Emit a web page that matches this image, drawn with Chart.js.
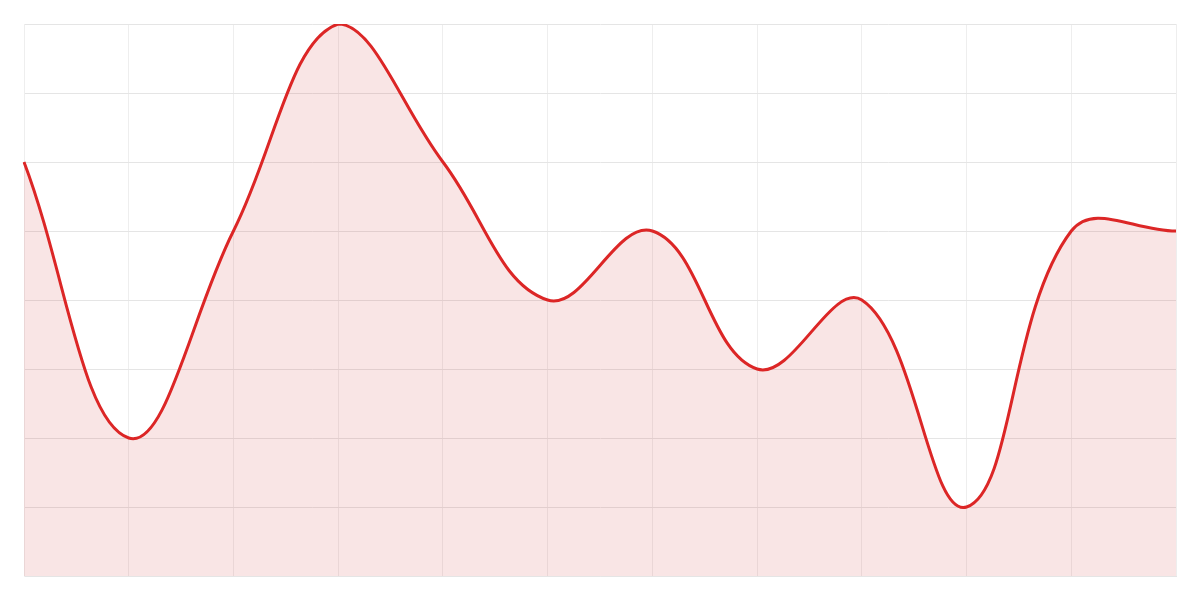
<!DOCTYPE html>
<html>
<head>
<meta charset="utf-8">
<script src="https://cdn.jsdelivr.net/npm/chart.js@4"></script>
<style>
html,body{margin:0;padding:0;background:#fff;}
#wrap{width:1200px;height:600px;}
</style>
</head>
<body>
<div id="wrap"><canvas id="c" width="1200" height="600"></canvas></div>
<script>
const labels = ['1','2','3','4','5','6','7','8','9','10','11','12'];
const values = [60, 20, 50, 80, 60, 40, 50, 30, 40, 10, 50, 50];
const yMin = 0, yMax = 80, yStep = 10;

new Chart(document.getElementById('c'), {
  type: 'line',
  data: {
    labels: labels,
    datasets: [{
      data: values,
      borderColor: '#dc2626',
      backgroundColor: 'rgba(205,40,40,0.12)',
      borderWidth: 3,
      fill: true,
      tension: 0.4,
      pointRadius: 0
    }]
  },
  options: {
    responsive: false,
    animation: false,
    layout: { padding: 24 },
    plugins: { legend: { display: false }, tooltip: { enabled: false } },
    scales: {
      x: {
        ticks: { display: false },
        grid: { color: '#eeeeee', drawTicks: false },
        border: { color: '#e5e5e5' }
      },
      y: {
        min: yMin, max: yMax,
        ticks: { display: false, stepSize: yStep },
        grid: { color: '#e5e5e5', drawTicks: false },
        border: { color: '#eeeeee' }
      }
    }
  }
});
</script>
</body>
</html>
